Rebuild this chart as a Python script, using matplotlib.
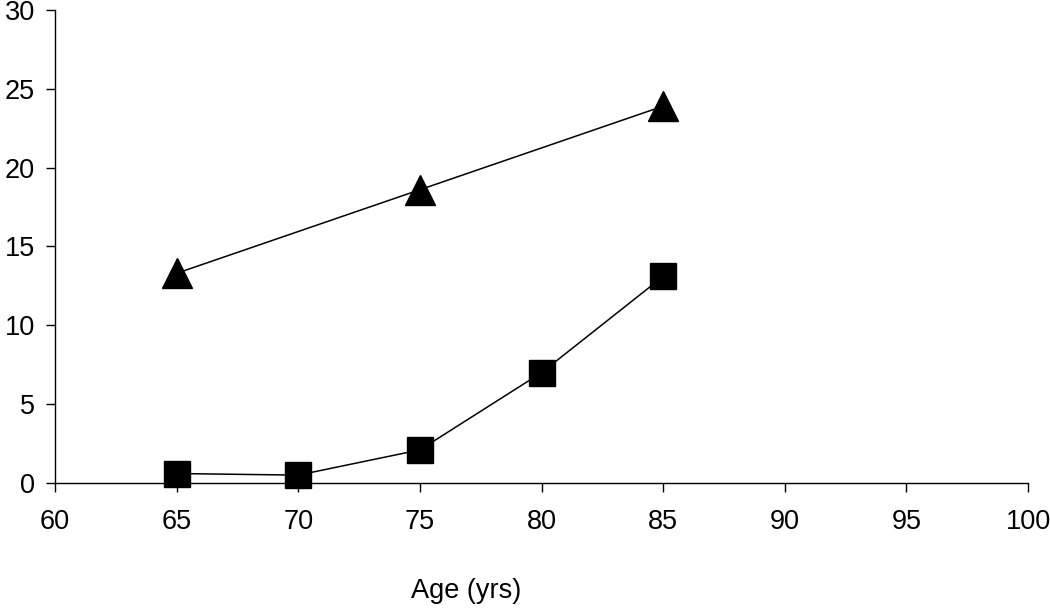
import matplotlib

matplotlib.use("Agg")
import matplotlib.pyplot as plt

plt.rcParams.update(
    {
        "font.family": ["Liberation Sans", "DejaVu Sans"],
        "font.size": 19.5,
    }
)

# data
age = [65, 70, 75, 80, 85]
square_vals = [0.6, 0.5, 2.1, 7.0, 13.1]
tri_age = [65, 75, 85]
tri_vals = [13.3, 18.6, 23.9]

fig = plt.figure(figsize=(10.5, 6.08), dpi=100)
ax = fig.add_axes([0.0524, 0.2056, 0.9267, 0.778])

ax.plot(tri_age, tri_vals, color="black", linewidth=1.1, marker="^",
        markersize=21, markerfacecolor="black", markeredgecolor="black",
        clip_on=False)
ax.plot(age, square_vals, color="black", linewidth=1.1, marker="s",
        markersize=19, markerfacecolor="black", markeredgecolor="black",
        clip_on=False)

ax.set_xlim(60, 100)
ax.set_ylim(0, 30)
ax.set_xticks(range(60, 101, 5))
ax.set_yticks(range(0, 31, 5))

for side in ("top", "right"):
    ax.spines[side].set_visible(False)
for side in ("left", "bottom"):
    ax.spines[side].set_linewidth(1.0)

ax.tick_params(axis="x", direction="out", length=6.5, width=1.0, pad=12, labelsize=19.5)
ax.tick_params(axis="y", direction="out", length=6.5, width=1.0, pad=8, labelsize=19.5)

ax.set_xlabel("Age (yrs)", fontsize=19.5)
ax.xaxis.set_label_coords(0.4224, -0.2)

fig.savefig("out.png", dpi=100)
